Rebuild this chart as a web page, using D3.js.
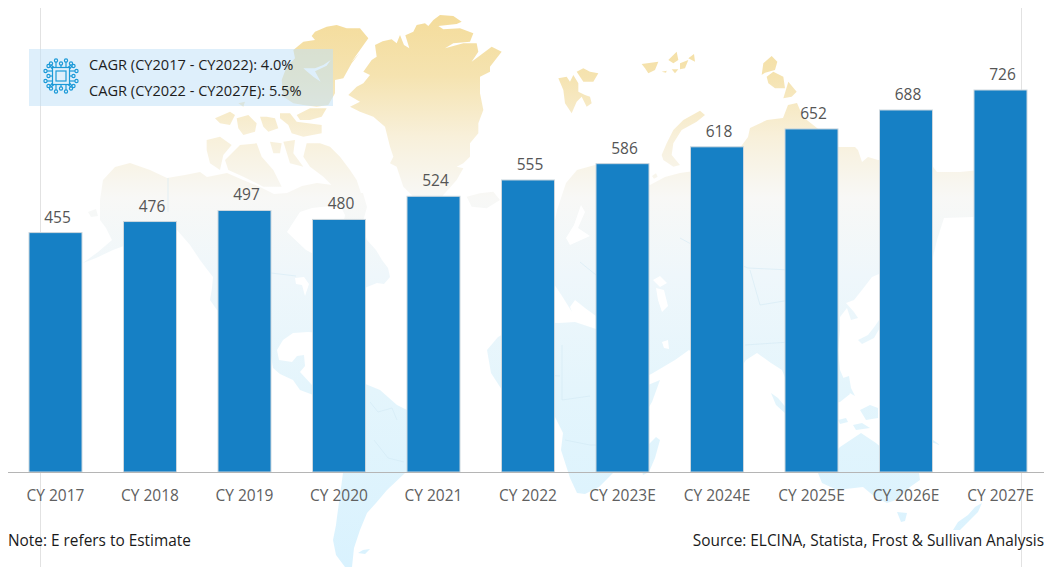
<!DOCTYPE html>
<html>
<head>
<meta charset="utf-8">
<script src="https://cdn.jsdelivr.net/npm/d3@7/dist/d3.min.js"></script>
<style>
html,body{margin:0;padding:0;background:#fff;}
svg{display:block;}
text{font-family:"Open Sans",sans-serif;}
</style>
</head>
<body>
<svg id="chart" width="1044" height="567"></svg>
<script>
// Market size by calendar year
const categories = ["CY 2017","CY 2018","CY 2019","CY 2020","CY 2021","CY 2022","CY 2023E","CY 2024E","CY 2025E","CY 2026E","CY 2027E"];
const values = [455,476,497,480,524,555,586,618,652,688,726];
const cagrLines = ["CAGR (CY2017 - CY2022): 4.0%","CAGR (CY2022 - CY2027E): 5.5%"];
const noteText = "Note: E refers to Estimate";
const sourceText = "Source: ELCINA, Statista, Frost & Sullivan Analysis";

// Arctic outlines are finely detailed, so they are stored at triple
// resolution around a local origin and placed by fromFine below.
const fromFine = (ox, oy, rings) => rings.map(r => r.map(p => [ox + p[0] / 3, oy + p[1] / 3]));

const arcticWest = fromFine(200, 0, [
  // Greenland
  [[490,215],[515,180],[530,170],[525,135],[548,124],[575,118],[590,130],[600,105],[612,135],[628,145],[616,106],[640,95],[650,75],[675,70],[685,78],[700,60],[720,45],[760,48],[785,65],[770,72],[715,78],[730,88],[780,85],[820,100],[810,125],[760,130],[735,145],[790,130],[830,130],[835,155],[815,185],[875,140],[905,155],[870,200],[870,215],[840,230],[840,280],[850,330],[835,370],[835,400],[810,430],[810,470],[790,490],[770,500],[790,505],[770,540],[730,585],[700,630],[650,600],[610,560],[590,500],[570,490],[580,470],[570,440],[555,380],[520,350],[480,335],[450,320],[480,305],[445,285],[470,260],[490,250],[510,225]],
  // Ellesmere
  [[280,150],[310,125],[345,120],[335,108],[345,95],[380,80],[410,75],[440,85],[480,85],[505,115],[480,150],[455,185],[478,160],[455,190],[430,235],[405,240],[405,280],[385,315],[350,320],[310,315],[280,310],[250,290],[245,240],[260,200],[285,175]],
  // Queen Elizabeth Islands
  [[45,355],[90,335],[105,345],[90,375],[60,370]],
  [[110,355],[145,345],[170,370],[165,395],[130,405],[115,385]],
  [[115,310],[135,305],[130,320]],
  [[180,350],[200,350],[225,355],[235,385],[205,395],[190,380]],
  [[240,340],[270,340],[290,365],[365,375],[365,400],[310,410],[275,400],[265,375],[240,355]],
  [[290,345],[330,325],[380,325],[365,350],[330,360],[300,360]],
  // Banks
  [[20,420],[60,410],[95,435],[70,465],[60,510],[30,490],[20,450]],
  // Victoria
  [[120,435],[170,430],[185,470],[220,510],[245,560],[190,560],[130,530],[85,510],[75,480]],
  // Prince of Wales and Somerset
  [[210,425],[245,430],[240,460],[220,460]],
  [[250,425],[285,420],[280,460],[310,500],[270,490]],
  // Baffin
  [[320,430],[360,430],[390,440],[420,470],[450,510],[470,540],[480,570],[490,610],[470,620],[430,570],[400,560],[370,530],[330,500],[310,470]],
  // Iceland
  [[800,590],[840,580],[880,575],[900,600],[860,625],[815,620]]
]);

const arcticEast = fromFine(540, 40, [
  // Svalbard
  [[55,115],[80,110],[90,125],[100,105],[115,130],[115,155],[135,165],[150,170],[155,190],[140,200],[125,170],[110,185],[95,220],[75,190],[70,150]],
  [[110,95],[130,85],[150,95],[175,100],[160,125],[130,125]],
  // Franz Josef Land
  [[305,72],[355,65],[345,90],[325,100],[315,85]],
  [[385,60],[410,35],[415,60],[400,70]],
  [[420,70],[445,60],[435,85],[420,88]],
  [[445,55],[462,42],[465,65]],
  [[365,95],[380,92],[378,98]],
  [[395,88],[415,88],[405,100]],
  // Severnaya Zemlya
  [[670,70],[695,48],[712,65],[705,90],[675,98],[665,105]],
  [[680,110],[700,95],[730,110],[735,145],[705,145],[685,130]],
  [[745,125],[770,155],[755,170],[730,175]],
  // Novaya Zemlya
  [[365,345],[380,310],[400,270],[430,240],[480,212],[495,225],[470,245],[425,270],[400,310],[395,345],[420,375],[400,380],[370,360]],
  // Kolguev
  [[336,408],[348,400],[353,410],[342,416]]
]);

// Remaining land, in page pixels
const landOutlines = [
  // North America
  [[130,163],[150,170],[167,178],[185,175],[200,172],[207,177],[227,173],[243,180],[260,187],[274,194],[287,193],[302,186],[317,183],[340,186],[363,193],[367,207],[362,225],[367,240],[376,250],[382,260],[388,268],[390,277],[384,284],[377,283],[367,287],[355,295],[345,312],[335,325],[323,333],[308,332],[293,333],[283,340],[277,350],[279,360],[292,362],[297,356],[304,355],[305,366],[300,372],[312,385],[322,392],[316,396],[300,390],[293,380],[280,374],[273,368],[270,350],[253,330],[235,320],[217,310],[210,300],[212,288],[213,277],[206,268],[200,260],[190,245],[177,230],[160,228],[140,240],[113,250],[96,258],[83,263],[98,252],[112,240],[106,228],[100,220],[100,200],[103,180],[115,167]],
  // St Lawrence islands
  [[88,212],[96,209],[98,216],[91,217]],
  // South America
  [[312,385],[340,378],[363,383],[380,390],[397,405],[407,410],[440,425],[445,440],[425,462],[405,473],[387,490],[376,503],[367,513],[360,530],[354,548],[352,567],[345,567],[336,555],[333,540],[336,525],[337,517],[343,473],[330,440],[318,412],[312,396]],
  // Falklands
  [[358,553],[363,550],[370,549],[365,554]],
  // Africa
  [[487,350],[498,337],[525,322],[559,323],[575,322],[599,330],[618,328],[635,365],[648,385],[660,380],[652,402],[638,425],[622,452],[613,473],[599,487],[585,494],[577,493],[570,478],[561,450],[563,433],[555,417],[530,408],[502,390],[491,373]],
  // Madagascar
  [[656,437],[660,440],[655,458],[649,472],[643,475],[640,462],[645,448]],
  // Eurasia
  [[557,210],[566,183],[577,170],[595,165],[617,170],[635,180],[650,185],[665,177],[680,173],[687,172],[705,170],[725,168],[748,137],[750,128],[767,120],[783,118],[788,105],[797,103],[803,117],[817,128],[838,147],[855,147],[858,150],[862,162],[868,157],[878,160],[930,163],[937,172],[960,172],[980,170],[1000,168],[1024,182],[990,205],[973,217],[944,218],[937,240],[933,257],[920,272],[900,265],[872,277],[862,290],[854,300],[846,303],[854,312],[858,318],[851,320],[847,308],[840,317],[840,330],[838,350],[840,370],[846,384],[850,394],[840,402],[825,405],[805,425],[795,395],[786,380],[782,370],[771,363],[757,353],[746,360],[730,385],[715,410],[703,380],[698,358],[689,350],[675,360],[653,373],[640,380],[626,345],[618,328],[605,318],[596,316],[585,308],[575,300],[570,307],[572,312],[562,296],[554,284],[540,280],[525,292],[510,296],[505,280],[525,260],[542,248],[552,236]],
  // Japan
  [[858,340],[868,335],[875,326],[879,320],[881,326],[874,338],[862,344]],
  // Sumatra and Java
  [[771,393],[778,398],[788,410],[786,414],[776,405]],
  // Philippines
  [[843,378],[849,376],[851,388],[855,396],[848,392]],
  // Borneo
  [[860,410],[870,405],[878,408],[878,418],[866,420]],
  // Sulawesi and Lesser Sunda
  [[853,425],[862,423],[870,428],[856,430]],
  [[838,420],[846,418],[848,422],[840,424]],
  // New Guinea
  [[895,420],[912,424],[922,432],[940,445],[925,440],[908,434],[896,428]],
  // Australia
  [[818,473],[825,462],[840,447],[861,433],[876,443],[884,450],[900,440],[910,458],[919,473],[920,480],[910,487],[896,500],[887,503],[875,497],[863,487],[837,490],[822,483]],
  // Tasmania
  [[897,512],[907,513],[905,521],[901,522]],
  // New Zealand
  [[982,503],[975,507],[968,515],[958,522],[953,530],[960,530],[970,520],[978,512]]
];
const waterOutlines = [
  // Ellesmere fjords
  ...fromFine(200, 0, [[[310,205],[345,205],[370,195],[392,180],[380,197],[345,214],[362,245],[342,232],[322,215]]]),
  // Hudson Bay
  [[300,212],[312,208],[340,205],[345,215],[340,240],[325,260],[306,250],[287,232]],
  // Great Lakes
  [[295,278],[304,277],[309,284],[305,296],[302,285],[296,284]],
  // Baltic
  [[581,205],[585,212],[578,228],[590,236],[570,245],[566,238],[574,225]],
  // Black Sea
  [[653,280],[660,276],[667,283],[660,287]],
  // Caspian
  [[656,288],[664,290],[668,306],[662,312],[658,300]],
  // Persian Gulf
  [[662,342],[668,340],[669,349],[664,348]]
];
const borderLines = [
  [[168,178],[168,212]],
  [[271,273],[296,276]],
  [[370,402],[378,412],[392,408],[397,420]],
  [[374,440],[388,458],[404,462]],
  [[510,350],[540,375],[560,376]],
  [[562,345],[562,400],[590,396]],
  [[680,238],[702,250],[748,268],[790,270],[815,285]],
  [[750,270],[760,305],[790,300],[826,295]],
  [[745,345],[790,342],[800,345]],
  [[580,262],[596,275]],
  [[565,440],[590,445],[610,445]]
];

const width = 1044, height = 567;
const svg = d3.select("#chart");

const x = d3.scaleBand().domain(categories).range([8.25,1047.75]).paddingInner(0.439).paddingOuter(0.2195);
const y = d3.scaleLinear().domain([0,726]).range([472,90]);

// Land colour runs from warm sand in the north to pale blue in the south
const defs = svg.append("defs");
const grad = defs.append("linearGradient").attr("id","landFill")
  .attr("gradientUnits","userSpaceOnUse").attr("x1",0).attr("x2",0).attr("y1",15).attr("y2",567);
[[0,"#f4dc9b"],[0.11,"#f5e3b0"],[0.22,"#f8f0da"],[0.33,"#f8f8f6"],[0.47,"#eff7fb"],[0.68,"#e4f5fc"],[1,"#d9f2fe"]]
  .forEach(s => grad.append("stop").attr("offset",s[0]).attr("stop-color",s[1]));

const closedPath = d3.line().curve(d3.curveLinearClosed);
const openPath = d3.line();
const mapLayer = svg.append("g").attr("class","map");
mapLayer.append("path")
  .attr("d", [...arcticWest, ...arcticEast, ...landOutlines].map(closedPath).join(""))
  .attr("fill","url(#landFill)");
mapLayer.append("path")
  .attr("d", waterOutlines.map(closedPath).join(""))
  .attr("fill","#fff");
mapLayer.append("path")
  .attr("d", borderLines.map(openPath).join(""))
  .attr("fill","none").attr("stroke","#cfe6f2").attr("stroke-width",0.7).attr("opacity",0.7);

// Thin frame lines at both sides of the backdrop
svg.append("g").selectAll("line").data([40.5,1021.5]).join("line")
  .attr("x1",d=>d).attr("x2",d=>d).attr("y1",8).attr("y2",567)
  .attr("stroke","#e2e2e2").attr("stroke-width",1);

// CAGR callout
svg.append("rect").attr("x",29).attr("y",49).attr("width",304).attr("height",57)
  .attr("fill","#bfe0f7").attr("opacity",0.52);
svg.append("g").selectAll("text").data(cagrLines).join("text")
  .attr("x",89).attr("y",(d,i)=>70+i*26)
  .attr("font-size",14.6).attr("fill","#1d1d1d").text(d=>d);

// Chip icon inside the callout
const chip = svg.append("g").attr("transform","translate(61,76)")
  .attr("fill","none").attr("stroke","#1c9ad8").attr("stroke-width",1.2);
chip.append("rect").attr("x",-8.5).attr("y",-8.5).attr("width",17).attr("height",17);
chip.append("rect").attr("x",-5).attr("y",-5).attr("width",10).attr("height",10);
const pinOffsets = [[-5,-14],[0,-11],[5,-14],[-10,-11],[10,-11]];
d3.range(4).forEach(r => {
  const g = chip.append("g").attr("transform",`rotate(${r*90})`);
  pinOffsets.forEach(p => {
    g.append("path").attr("d",`M${Math.abs(p[0])===10?p[0]*0.7:p[0]},-8.5L${p[0]},${p[1]}`);
    g.append("circle").attr("cx",p[0]).attr("cy",p[1]-1.5).attr("r",1.6);
  });
});

// Bars
svg.append("g").selectAll("rect").data(values).join("rect")
  .attr("x",(d,i)=>x(categories[i])).attr("width",x.bandwidth())
  .attr("y",d=>y(d)).attr("height",d=>y(0)-y(d))
  .attr("fill","#1680c5").attr("stroke","#cdd7de").attr("stroke-width",1);

// Value labels
svg.append("g").selectAll("text").data(values).join("text")
  .attr("x",(d,i)=>x(categories[i])+x.bandwidth()/2+2)
  .attr("y",d=>y(d)-10)
  .attr("text-anchor","middle").attr("font-size",15.5).attr("fill","#555").text(d=>d);

// Category axis
const axis = svg.append("g").attr("transform","translate(0,472)")
  .call(d3.axisBottom(x).tickSize(0).tickPadding(18));
axis.select(".domain").attr("d","M8,0.5H1044").attr("stroke","#b5b5b5").attr("stroke-width",1.2);
axis.selectAll("text").attr("font-size",15.5).attr("fill","#606060")
  .attr("font-family",'"Open Sans",sans-serif');

// Footnotes
svg.append("text").attr("x",8).attr("y",546).attr("font-size",15.4).attr("fill","#1a1a1a").text(noteText);
svg.append("text").attr("x",1044).attr("y",546).attr("text-anchor","end")
  .attr("font-size",15.4).attr("fill","#1a1a1a").text(sourceText);
</script>
</body>
</html>
